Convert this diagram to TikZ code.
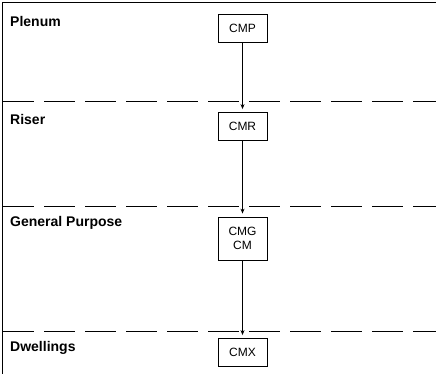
\documentclass[tikz,border=0pt]{standalone}
\usepackage{fontspec}
\setmainfont{Liberation Sans}
\usetikzlibrary{arrows.meta}
\begin{document}
\begin{tikzpicture}[x=1pt,y=1pt,
  box/.style={draw,line width=0.8pt,minimum width=49pt,minimum height=28pt,inner sep=1pt,align=center,font=\fontsize{12}{14}\selectfont},
  zone/.style={anchor=west,font=\fontsize{14}{16}\selectfont\bfseries,inner sep=0pt},
  sep/.style={line width=1.2pt,dash pattern=on 30.5pt off 10.5pt},
  flow/.style={line width=0.8pt,-{Stealth[length=5pt,width=4pt]},shorten >=3pt}]
\useasboundingbox (0,0) rectangle (436,-374);
\draw[line width=1.2pt] (436,-2.5) -- (2.5,-2.5) -- (2.5,-374);
\draw[sep] (3,-101.5) -- (436,-101.5);
\draw[sep] (3,-206.5) -- (436,-206.5);
\draw[sep] (3,-331.5) -- (436,-331.5);
\node[zone] (lp) at (10,-21) {Plenum};
\node[zone] (lr) at (10,-119) {Riser};
\node[zone] (lg) at (10,-223) {General Purpose};
\node[zone] (ld) at (10,-347.5) {Dwellings};
\node[box] (cmp) at (242.5,-28) {CMP};
\node[box] (cmr) at (242.5,-126.5) {CMR};
\node[box,minimum height=43pt] (cmg) at (242.5,-238.5) {CMG\\CM};
\node[box] (cmx) at (242.5,-352.5) {CMX};
\draw[flow] (cmp) -- (cmr);
\draw[flow] (cmr) -- (cmg);
\draw[flow] (cmg) -- (cmx);
\end{tikzpicture}
\end{document}
